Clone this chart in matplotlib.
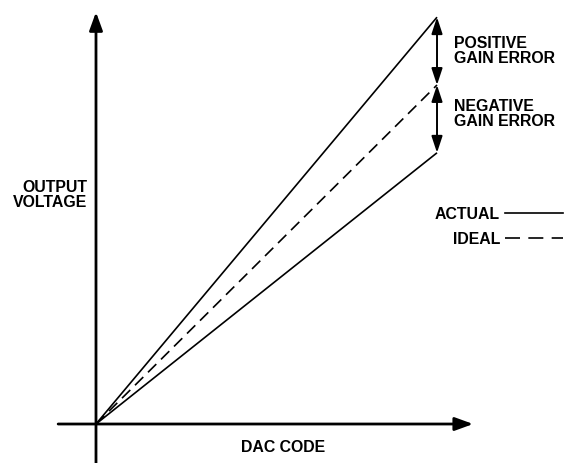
import matplotlib.pyplot as plt

# DAC code (normalised full scale) and output voltage for each transfer line
dac_code = [0.0, 1.0]
ideal = [0.0, 1.0]
actual_positive = [0.0, 1.2]
actual_negative = [0.0, 0.8]

plt.rcParams['font.family'] = ['Liberation Sans', 'DejaVu Sans']

fig = plt.figure(figsize=(5.64, 4.63), dpi=100)
ax = fig.add_axes([0, 0, 1, 1])
ax.set_xlim(-0.2815, 1.3724)
ax.set_ylim(-0.115, 1.2507)
ax.axis('off')


def fig_xy(px, py):
    # pixel position in the 564x463 picture -> axes fraction
    return px / 564, 1 - py / 463


# axes with arrow heads
ax.annotate('', xy=(0, 1.215), xytext=(0, -0.12),
            arrowprops=dict(arrowstyle='-|>,head_length=1.1,head_width=0.4',
                            lw=2.0, color='black', shrinkA=0, shrinkB=0))
ax.annotate('', xy=(1.106, 0), xytext=(-0.111, 0),
            arrowprops=dict(arrowstyle='-|>,head_length=1.1,head_width=0.4',
                            lw=2.0, color='black', shrinkA=0, shrinkB=0))

# transfer lines
ax.plot(dac_code, actual_positive, color='black', lw=1.2, solid_capstyle='butt')
ax.plot(dac_code, actual_negative, color='black', lw=1.2, solid_capstyle='butt')
ax.plot(dac_code, ideal, color='black', lw=1.2, linestyle=(0, (7, 4)))

# gain error arrows at full scale
x_fs = dac_code[-1]
for top, bot in [(actual_positive[-1], ideal[-1]), (ideal[-1], actual_negative[-1])]:
    ax.annotate('', xy=(x_fs, top), xytext=(x_fs, bot),
                arrowprops=dict(arrowstyle='<|-|>,head_length=1.0,head_width=0.33',
                                lw=1.4, color='black', shrinkA=0, shrinkB=0))

bold = dict(fontsize=11.4, fontweight='bold', color='black', linespacing=1.0)
ax.text(*fig_xy(454, 51), 'POSITIVE\nGAIN ERROR', transform=ax.transAxes,
        ha='left', va='center', **bold)
ax.text(*fig_xy(454, 114), 'NEGATIVE\nGAIN ERROR', transform=ax.transAxes,
        ha='left', va='center', **bold)
ax.text(*fig_xy(87, 195), 'OUTPUT\nVOLTAGE', transform=ax.transAxes,
        ha='right', va='center', multialignment='right', **bold)
ax.text(*fig_xy(283, 448), 'DAC CODE', transform=ax.transAxes,
        ha='center', va='center', **bold)

# legend
ax.text(*fig_xy(500, 214), 'ACTUAL', transform=ax.transAxes,
        ha='right', va='center', **bold)
ax.text(*fig_xy(500, 239), 'IDEAL', transform=ax.transAxes,
        ha='right', va='center', **bold)
lx0, ly = fig_xy(505, 213)
lx1, _ = fig_xy(563, 213)
ax.plot([lx0, lx1], [ly, ly], transform=ax.transAxes, color='black', lw=1.2)
_, ly2 = fig_xy(505, 238)
ax.plot([lx0, lx1], [ly2, ly2], transform=ax.transAxes, color='black', lw=1.2,
        linestyle=(0, (9, 5)))

fig.savefig('out.png', dpi=100)
